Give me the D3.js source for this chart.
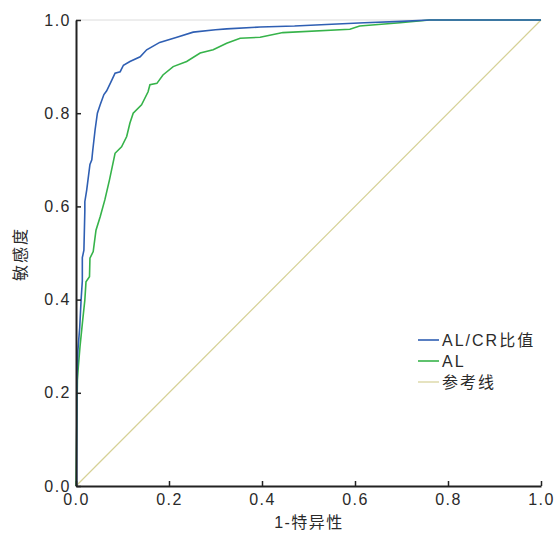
<!DOCTYPE html>
<html>
<head>
<meta charset="utf-8">
<script src="https://cdn.jsdelivr.net/npm/d3@7"></script>
<style>
  body { margin: 0; background: #fff; }
  text { font-family: Arial, "Liberation Sans", "Noto Sans CJK SC", sans-serif; fill: #2a2a2a; }
</style>
</head>
<body>
<div id="container"></div>
<script>
let w = 556;
let h = 535;

// data: [1-specificity, sensitivity]
let ratioRoc = [
  [0,0],[0.0015,0],[0.0015,0.084],[0.002,0.23],[0.004,0.29],[0.008,0.34],[0.011,0.40],
  [0.0136,0.44],[0.0136,0.49],[0.017,0.506],[0.019,0.59],[0.019,0.61],[0.023,0.635],
  [0.030,0.69],[0.034,0.70],[0.036,0.72],[0.041,0.764],[0.046,0.80],[0.052,0.818],
  [0.060,0.84],[0.066,0.848],[0.077,0.871],[0.084,0.886],[0.095,0.889],[0.102,0.903],
  [0.116,0.911],[0.138,0.921],[0.152,0.936],[0.18,0.952],[0.217,0.963],[0.252,0.974],
  [0.30,0.979],[0.324,0.981],[0.396,0.985],[0.47,0.987],[0.55,0.991],[0.62,0.994],
  [0.70,0.997],[0.76,1.0],[1,1]
];
let alRoc = [
  [0,0],[0.002,0.15],[0.003,0.227],[0.005,0.256],[0.0086,0.299],[0.0144,0.356],
  [0.019,0.399],[0.0215,0.438],[0.029,0.449],[0.030,0.489],[0.037,0.503],[0.043,0.549],
  [0.052,0.578],[0.062,0.614],[0.072,0.657],[0.084,0.714],[0.098,0.728],[0.109,0.75],
  [0.116,0.779],[0.123,0.80],[0.141,0.818],[0.155,0.846],[0.159,0.861],[0.174,0.864],
  [0.187,0.882],[0.209,0.90],[0.238,0.911],[0.267,0.929],[0.295,0.936],[0.324,0.95],
  [0.353,0.961],[0.396,0.963],[0.445,0.973],[0.589,0.98],[0.61,0.987],[0.697,0.994],
  [0.76,1.0],[1,1]
];
let refLine = [[0,0],[1,1]];

let seriesNames = ["AL/CR比值", "AL", "参考线"];
let seriesColors = ["#2F5FB3", "#36B34A", "#D6D196"];
let tickValues = [0, 0.2, 0.4, 0.6, 0.8, 1.0];

let viz = d3.select("#container").append("svg")
    .attr("width", w)
    .attr("height", h);

let xScale = d3.scaleLinear().domain([0, 1]).range([76, 541]);
let yScale = d3.scaleLinear().domain([0, 1]).range([486, 20]);

// light top frame
viz.append("line")
  .attr("x1", xScale(0)).attr("x2", xScale(1))
  .attr("y1", yScale(1)).attr("y2", yScale(1))
  .attr("stroke", "#dcdcdc").attr("stroke-width", 1);

let lineMaker = d3.line()
  .x(function(d){ return xScale(d[0]); })
  .y(function(d){ return yScale(d[1]); });

let allSeries = [refLine, alRoc, ratioRoc];
let colorIdx = [2, 1, 0];
allSeries.forEach(function(s, i){
  viz.append("path")
    .attr("d", lineMaker(s))
    .attr("fill", "none")
    .attr("stroke", seriesColors[colorIdx[i]])
    .attr("stroke-width", colorIdx[i] == 2 ? 1.2 : 1.6);
});

// axes (ticks pointing inward)
let xAxis = d3.axisBottom(xScale).tickValues(tickValues)
  .tickFormat(d3.format(".1f")).tickSizeInner(-5).tickSizeOuter(0);
let yAxis = d3.axisLeft(yScale).tickValues(tickValues)
  .tickFormat(d3.format(".1f")).tickSizeInner(-5).tickSizeOuter(0);

let gx = viz.append("g").attr("transform", "translate(0,486)").call(xAxis);
let gy = viz.append("g").attr("transform", "translate(76,0)").call(yAxis);

[gx, gy].forEach(function(g){
  g.select(".domain").attr("stroke", "#222").attr("stroke-width", 2);
  g.selectAll(".tick line").attr("stroke", "#222").attr("stroke-width", 1.5);
  g.selectAll(".tick text")
    .style("font-size", "16px")
    .style("letter-spacing", "1.5px")
    .attr("fill", "#2a2a2a");
});
gx.selectAll(".tick text").attr("y", 8);
gy.selectAll(".tick text").attr("x", -5);

// axis titles
viz.append("text")
  .text("1-特异性")
  .attr("x", 309).attr("y", 528)
  .attr("text-anchor", "middle")
  .style("font-size", "16px")
  .style("letter-spacing", "1.5px");

viz.append("text")
  .text("敏感度")
  .attr("transform", "translate(26,254) rotate(-90)")
  .attr("text-anchor", "middle")
  .style("font-size", "16px")
  .style("letter-spacing", "2px");

// legend
let legendY = [340, 361, 382];
seriesNames.forEach(function(name, i){
  viz.append("line")
    .attr("x1", 418).attr("x2", 439)
    .attr("y1", legendY[i]).attr("y2", legendY[i])
    .attr("stroke", seriesColors[i])
    .attr("stroke-width", i == 2 ? 1.2 : 1.6);
  viz.append("text")
    .text(name)
    .attr("x", 442).attr("y", legendY[i])
    .attr("dy", "0.36em")
    .style("font-size", "16px")
    .style("letter-spacing", "2px");
});
</script>
</body>
</html>
